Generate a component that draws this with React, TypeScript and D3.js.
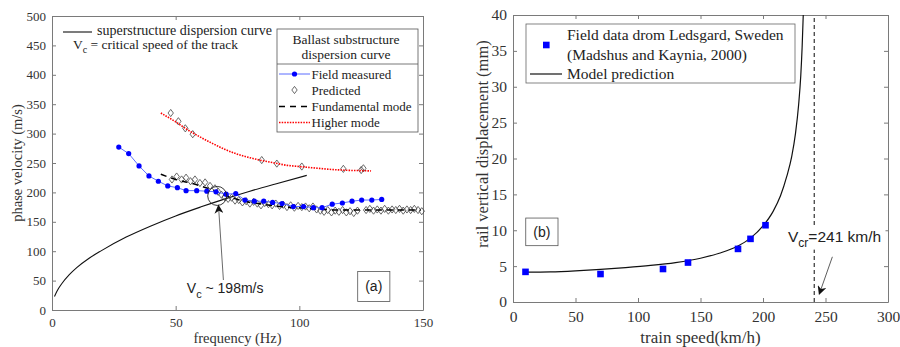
import React, { useEffect, useRef } from 'react';
import * as d3 from 'd3';

// ---- panel (a): dispersion curves ----
const superFreq = [1, 2, 4, 7, 10, 15, 20, 30, 40, 50, 60, 70, 80, 90, 103];
const superVel = [23, 32, 45, 60, 72, 88, 101, 124, 143, 160, 175, 189, 202, 214, 229];

const fieldFreq = [27, 31, 35.2, 39.2, 43, 46.8, 50.7, 54.2, 58.5, 62.6, 66.3, 70.4, 74.3, 78, 81.8, 85.6, 89.2, 93, 97.6, 101.7, 105.7, 109.2, 113.3, 117.4, 121.3, 125.2, 129.3, 133.3];
const fieldVel = [277, 266, 245, 228, 219, 211, 208, 203, 203, 202, 201, 197, 198, 187, 185, 185, 183, 181, 176, 176, 174, 174, 180, 182, 185, 187, 187, 188];

const predHighFreq = [48, 51.1, 53.9, 56.9, 84.8, 90.9, 101, 117.8, 125, 125.9];
const predHighVel = [335, 321, 309, 299, 255, 249, 244, 240, 238, 241];

const predLowFreq = [48.5, 50.4, 52.4, 54.2, 56, 57.8, 59.8, 61.9, 63.9, 65.9, 67.2, 68.5, 69.8, 71.2, 72.6, 74, 75.5, 77, 78.5, 80, 81.5, 83, 84.5, 86, 87.5, 89, 90.5, 92, 93.5, 95, 96.5, 98, 99.5, 101, 102.5, 104, 105.5, 107, 108.5, 110, 111.5, 113, 114.5, 116, 117.5, 119, 120.5, 122, 123.5, 127, 128.5, 130, 131.5, 133, 134.5, 136, 137.5, 139, 140.5, 142, 143.5, 145, 146.5, 148, 149.5];
const predLowVel = [222, 227, 222, 225, 219, 222, 216, 217, 211, 207, 201, 196, 192, 189, 191, 186, 187, 183, 185, 181, 184, 181, 178, 182, 180, 178, 181, 177, 179, 175, 178, 174, 177, 175, 176, 173, 176, 171, 169, 167, 170, 166, 169, 167, 170, 166, 168, 165, 169, 170, 172, 169, 171, 169, 172, 169, 171, 170, 172, 169, 171, 170, 172, 170, 168];

const fundFreq = [44, 50, 55, 60, 65, 70, 75, 80, 85, 90, 95, 100, 105, 110, 115, 120, 130, 140, 149];
const fundVel = [231, 222, 217, 211, 204, 195, 188, 183, 180, 177, 175, 174, 172, 171, 170, 170, 170, 170, 170];

const higherFreq = [44, 50, 55, 60, 65, 70, 75, 80, 85, 90, 95, 100, 105, 110, 115, 120, 125, 129];
const higherVel = [335, 320, 306, 294, 283, 273, 265, 259, 254, 250, 246, 244, 242, 240, 238.5, 237.5, 237, 236.5];

const aXTicks = [0, 50, 100, 150];
const aYTicks = [0, 50, 100, 150, 200, 250, 300, 350, 400, 450, 500];

// ---- panel (b): rail displacement vs speed ----
const ledsSpeed = [10, 70, 120, 140, 180, 190, 202];
const ledsDisp = [4.2, 3.9, 4.6, 5.5, 7.4, 8.8, 10.7];

const modelSpeed = [10, 30, 50, 70, 90, 110, 130, 150, 165, 180, 190, 200, 208, 214, 219, 223, 226, 228.5, 230.2, 231.3, 232.2];
const modelDisp = [4.15, 4.2, 4.35, 4.55, 4.8, 5.1, 5.5, 6.1, 6.8, 7.8, 8.9, 10.6, 12.6, 14.8, 17.5, 20.3, 23.5, 27.5, 31.5, 35.5, 40];

const critSpeed = 241;
const bXTicks = [0, 50, 100, 150, 200, 250, 300];
const bYTicks = [0, 5, 10, 15, 20, 25, 30, 35, 40];

const SERIF = "'Liberation Serif', 'Times New Roman', serif";
const SANS = "'Liberation Sans', Arial, sans-serif";
const AXIS = '#7a7a7a';
const TXT = '#333';

type Sel = d3.Selection<SVGSVGElement, unknown, null, undefined>;

// MATLAB-like boxed axes with inward ticks
function drawFrame(svg: Sel, x: d3.ScaleLinear<number, number>, y: d3.ScaleLinear<number, number>,
  xTicks: number[], yTicks: number[], fs: number, padX: number, padY: number) {
  const [xl, xr] = x.range();
  const [yb, yt] = y.range();
  const g = svg.append('g');
  g.append('g').attr('transform', `translate(0,${yb})`)
    .call(d3.axisBottom(x).tickValues(xTicks).tickSizeInner(-4).tickSizeOuter(0).tickPadding(padX).tickFormat(d3.format('d')));
  g.append('g').attr('transform', `translate(0,${yt})`)
    .call(d3.axisTop(x).tickValues(xTicks).tickSizeInner(-4).tickSizeOuter(0).tickFormat(() => ''));
  g.append('g').attr('transform', `translate(${xl},0)`)
    .call(d3.axisLeft(y).tickValues(yTicks).tickSizeInner(-4).tickSizeOuter(0).tickPadding(padY).tickFormat(d3.format('d')));
  g.append('g').attr('transform', `translate(${xr},0)`)
    .call(d3.axisRight(y).tickValues(yTicks).tickSizeInner(-4).tickSizeOuter(0).tickFormat(() => ''));
  g.selectAll('.domain').attr('stroke', AXIS).attr('stroke-width', 1);
  g.selectAll('.tick line').attr('stroke', AXIS);
  g.selectAll('.tick text').attr('fill', TXT).attr('font-family', SERIF).attr('font-size', fs);
}

function diamond(g: d3.Selection<SVGGElement, unknown, null, undefined>, cx: number, cy: number) {
  g.append('path')
    .attr('d', `M${cx},${cy - 3.6}L${cx + 2.7},${cy}L${cx},${cy + 3.6}L${cx - 2.7},${cy}Z`)
    .attr('fill', 'none').attr('stroke', '#444').attr('stroke-width', 0.8);
}

function drawA(svg: Sel) {
  const x = d3.scaleLinear().domain([0, 150]).range([52, 423]);
  const y = d3.scaleLinear().domain([0, 500]).range([310, 16]);
  drawFrame(svg, x, y, aXTicks, aYTicks, 13, 8, 6);

  const line = (fx: number[], fy: number[]) => d3.line<number>()
    .x((_, i) => x(fx[i])).y((_, i) => y(fy[i])).curve(d3.curveMonotoneX)(fx);

  const g = svg.append('g');
  g.append('path').attr('d', line(superFreq, superVel)).attr('fill', 'none').attr('stroke', '#111').attr('stroke-width', 1.1);

  const dg = g.append('g');
  predLowFreq.forEach((f, i) => diamond(dg, x(f), y(predLowVel[i])));
  predHighFreq.forEach((f, i) => diamond(dg, x(f), y(predHighVel[i])));

  g.append('path').attr('d', line(higherFreq, higherVel)).attr('fill', 'none')
    .attr('stroke', '#ff0000').attr('stroke-width', 1.6).attr('stroke-dasharray', '1.5,1.2');
  g.append('path').attr('d', line(fundFreq, fundVel)).attr('fill', 'none')
    .attr('stroke', '#000').attr('stroke-width', 1.5).attr('stroke-dasharray', '6,5');

  g.append('path').attr('d', d3.line<number>().x((_, i) => x(fieldFreq[i])).y((_, i) => y(fieldVel[i]))(fieldFreq))
    .attr('fill', 'none').attr('stroke', '#5b6dff').attr('stroke-width', 1);
  g.selectAll('circle.fm').data(fieldFreq).enter().append('circle')
    .attr('cx', d => x(d)).attr('cy', (_, i) => y(fieldVel[i])).attr('r', 2.6).attr('fill', '#0000ff');

  // critical speed annotation
  g.append('circle').attr('cx', x(66.8)).attr('cy', y(194)).attr('r', 9.5)
    .attr('fill', 'none').attr('stroke', '#222').attr('stroke-width', 0.9);
  g.append('line').attr('x1', x(69.3)).attr('y1', y(51)).attr('x2', x(67.3)).attr('y2', y(178))
    .attr('stroke', '#444').attr('stroke-width', 0.8).attr('marker-end', 'url(#arrowHead)');
  const vt = g.append('text').attr('x', x(54.5)).attr('y', y(28.4)).attr('font-family', SANS).attr('font-size', 14).attr('fill', '#222');
  vt.append('tspan').text('V');
  vt.append('tspan').attr('dy', 5).attr('font-size', 11).text('c');
  vt.append('tspan').attr('dy', -5).text(' ~ 198m/s');

  g.append('rect').attr('x', x(123.6)).attr('y', y(65.6)).attr('width', x(136.6) - x(123.6)).attr('height', y(14.5) - y(65.6))
    .attr('fill', '#fff').attr('stroke', '#555').attr('stroke-width', 0.8);
  g.append('text').attr('x', (x(123.6) + x(136.6)) / 2).attr('y', y(40) + 5).attr('text-anchor', 'middle')
    .attr('font-family', SANS).attr('font-size', 14).attr('fill', '#222').text('(a)');

  // top-left note
  g.append('line').attr('x1', 63).attr('x2', 92).attr('y1', 32).attr('y2', 32).attr('stroke', '#111').attr('stroke-width', 1.1);
  g.append('text').attr('x', 97).attr('y', 35).attr('font-family', SERIF).attr('font-size', 14).attr('fill', '#222')
    .text('superstructure dispersion curve');
  const nt = g.append('text').attr('x', 73).attr('y', 49).attr('font-family', SERIF).attr('font-size', 13.5).attr('fill', '#222');
  nt.append('tspan').text('V');
  nt.append('tspan').attr('dy', 4).attr('font-size', 10).text('c');
  nt.append('tspan').attr('dy', -4).text(' = critical speed of the track');

  // legend box
  const lg = g.append('g');
  lg.append('rect').attr('x', 277).attr('y', 29).attr('width', 141).attr('height', 103)
    .attr('fill', '#fff').attr('stroke', '#555').attr('stroke-width', 0.8);
  lg.append('line').attr('x1', 277).attr('x2', 418).attr('y1', 64).attr('y2', 64).attr('stroke', '#555').attr('stroke-width', 0.8);
  lg.append('text').attr('x', 346).attr('y', 44).attr('text-anchor', 'middle').attr('font-family', SERIF).attr('font-size', 13.5).attr('fill', '#222').text('Ballast substructure');
  lg.append('text').attr('x', 346).attr('y', 59).attr('text-anchor', 'middle').attr('font-family', SERIF).attr('font-size', 13.5).attr('fill', '#222').text('dispersion curve');
  const entries = ['Field measured', 'Predicted', 'Fundamental mode', 'Higher mode'];
  const ey = [74, 90, 106.5, 122.5];
  entries.forEach((t, i) => {
    lg.append('text').attr('x', 311.5).attr('y', ey[i] + 4.5).attr('font-family', SERIF).attr('font-size', 13).attr('fill', '#222').text(t);
  });
  lg.append('line').attr('x1', 279).attr('x2', 310).attr('y1', ey[0]).attr('y2', ey[0]).attr('stroke', '#5b6dff');
  lg.append('circle').attr('cx', 294.5).attr('cy', ey[0]).attr('r', 2.6).attr('fill', '#0000ff');
  diamond(lg, 294.5, ey[1]);
  lg.append('line').attr('x1', 279).attr('x2', 310).attr('y1', ey[2]).attr('y2', ey[2])
    .attr('stroke', '#000').attr('stroke-width', 1.5).attr('stroke-dasharray', '6,5');
  lg.append('line').attr('x1', 279).attr('x2', 310).attr('y1', ey[3]).attr('y2', ey[3])
    .attr('stroke', '#ff0000').attr('stroke-width', 1.6).attr('stroke-dasharray', '1.5,1.2');

  svg.append('text').attr('transform', `translate(22,${(16 + 310) / 2}) rotate(-90)`).attr('text-anchor', 'middle')
    .attr('font-family', SERIF).attr('font-size', 14.5).attr('fill', TXT).text('phase velocity (m/s)');
  svg.append('text').attr('x', (52 + 423) / 2).attr('y', 343).attr('text-anchor', 'middle')
    .attr('font-family', SERIF).attr('font-size', 14.5).attr('fill', TXT).text('frequency (Hz)');
}

function drawB(svg: Sel) {
  const x = d3.scaleLinear().domain([0, 300]).range([513, 888]);
  const y = d3.scaleLinear().domain([0, 40]).range([302, 15]);
  drawFrame(svg, x, y, bXTicks, bYTicks, 15.5, 9, 6);

  const g = svg.append('g');
  g.append('line').attr('x1', x(critSpeed)).attr('x2', x(critSpeed)).attr('y1', y(0)).attr('y2', y(40))
    .attr('stroke', '#333').attr('stroke-width', 1.2).attr('stroke-dasharray', '4,3');

  g.append('path').attr('d', d3.line<number>().x((_, i) => x(modelSpeed[i])).y((_, i) => y(modelDisp[i])).curve(d3.curveMonotoneX)(modelSpeed))
    .attr('fill', 'none').attr('stroke', '#111').attr('stroke-width', 1.2);
  g.selectAll('rect.pt').data(ledsSpeed).enter().append('rect')
    .attr('x', d => x(d) - 3.3).attr('y', (_, i) => y(ledsDisp[i]) - 3.3).attr('width', 6.6).attr('height', 6.6).attr('fill', '#0000ff');

  // V_cr label
  g.append('rect').attr('x', x(219)).attr('y', y(10.6)).attr('width', x(298) - x(219)).attr('height', y(7.3) - y(10.6)).attr('fill', '#fff');
  const vt = g.append('text').attr('x', x(220)).attr('y', y(8.3)).attr('font-family', SANS).attr('font-size', 15.5).attr('fill', '#222');
  vt.append('tspan').text('V');
  vt.append('tspan').attr('dy', 5).attr('font-size', 12).text('cr');
  vt.append('tspan').attr('dy', -5).text('=241 km/h');
  g.append('line').attr('x1', x(255.5)).attr('y1', y(6.3)).attr('x2', x(245)).attr('y2', y(1.1))
    .attr('stroke', '#333').attr('stroke-width', 0.8).attr('marker-end', 'url(#arrowHead)');

  g.append('rect').attr('x', x(10.2)).attr('y', y(11.7)).attr('width', x(36) - x(10.2)).attr('height', y(7.85) - y(11.7))
    .attr('fill', '#fff').attr('stroke', '#555').attr('stroke-width', 0.8);
  g.append('text').attr('x', (x(10.2) + x(36)) / 2).attr('y', y(9.8) + 5).attr('text-anchor', 'middle')
    .attr('font-family', SANS).attr('font-size', 14).attr('fill', '#222').text('(b)');

  // legend
  const lg = g.append('g');
  lg.append('rect').attr('x', 526).attr('y', 24).attr('width', 269).attr('height', 59)
    .attr('fill', '#fff').attr('stroke', '#666').attr('stroke-width', 0.8);
  lg.append('rect').attr('x', 543).attr('y', 41.7).attr('width', 6.6).attr('height', 6.6).attr('fill', '#0000ff');
  lg.append('line').attr('x1', 530).attr('x2', 562).attr('y1', 74).attr('y2', 74).attr('stroke', '#111').attr('stroke-width', 1.2);
  const lt = ['Field data drom Ledsgard, Sweden', '(Madshus and Kaynia, 2000)', 'Model prediction'];
  const ly = [35, 55, 74];
  lt.forEach((t, i) => {
    lg.append('text').attr('x', 567).attr('y', ly[i] + 5).attr('font-family', SERIF).attr('font-size', 15.5).attr('fill', '#222').text(t);
  });

  svg.append('text').attr('transform', `translate(488,144) rotate(-90)`).attr('text-anchor', 'middle')
    .attr('font-family', SERIF).attr('font-size', 16.5).attr('fill', TXT).text('rail vertical displacement (mm)');
  svg.append('text').attr('x', (513 + 888) / 2).attr('y', 343).attr('text-anchor', 'middle')
    .attr('font-family', SERIF).attr('font-size', 17).attr('fill', TXT).text('train speed(km/h)');
}

const App: React.FC = () => {
  const svgRef = useRef<SVGSVGElement>(null);

  useEffect(() => {
    const svg = d3.select(svgRef.current!) as Sel;
    svg.selectAll('*').remove();
    svg.append('defs').append('marker')
      .attr('id', 'arrowHead').attr('viewBox', '0 0 10 10').attr('refX', 9).attr('refY', 5)
      .attr('markerWidth', 9).attr('markerHeight', 9).attr('markerUnits', 'userSpaceOnUse').attr('orient', 'auto')
      .append('path').attr('d', 'M0,0L10,5L0,10L3,5Z').attr('fill', '#111');
    drawA(svg);
    drawB(svg);
  }, []);

  return (
    <svg ref={svgRef} width={900} height={347} style={{ position: 'absolute', left: 0, top: 0, background: '#fff' }} />
  );
};

export default App;
